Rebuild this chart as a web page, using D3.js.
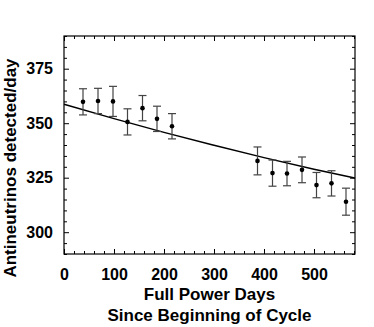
<!DOCTYPE html>
<html>
<head>
<meta charset="utf-8">
<script src="https://cdn.jsdelivr.net/npm/d3@7"></script>
<style>
  body { margin: 0; background: #fff; }
  text { font-family: "Liberation Sans", Arial, sans-serif; font-weight: bold; fill: #000; }
</style>
</head>
<body>
<div id="chart"></div>
<script>
'use strict'

// measured points: full power days, antineutrinos/day, error
const days   = [38, 68, 98, 127, 157, 186, 216, 387, 417, 446, 476, 505, 535, 564]
const rates  = [359.8, 360.2, 360.0, 350.6, 356.9, 352.0, 348.6, 332.7, 327.1, 326.9, 328.6, 321.6, 322.4, 314.0]
const errors = [6.0, 5.8, 6.9, 6.0, 5.8, 5.8, 5.8, 6.4, 6.0, 5.6, 5.9, 5.8, 5.8, 6.2]

// fitted curve
const fitDays  = [0, 100, 200, 300, 400, 500, 582]
const fitRates = [358.7, 352.1, 345.8, 339.9, 334.2, 328.9, 324.8]

var svgWidth = 374
var svgHeight = 327
var margin = {left: 64, right: 19, top: 36, bottom: 73}
const width = svgWidth - margin.left - margin.right
const height = svgHeight - margin.top - margin.bottom

const svg = d3.select('#chart').append('svg')
    .attr('width', svgWidth)
    .attr('height', svgHeight)
    .append('g')
    .attr('transform', 'translate(' + margin.left + ',' + margin.top + ')')

var xScale = d3.scaleLinear().domain([0, 582]).range([0, width])
var yScale = d3.scaleLinear().domain([290, 390]).range([height, 0])

// inward ticks on all four sides
function drawAxis(axis, transform, minorStep, majorStep, domain, showLabels) {
    var minor = d3.range(domain[0], domain[1] + 0.001, minorStep)
        .filter(function(v) { return Math.abs(v / majorStep - Math.round(v / majorStep)) > 1e-6 })
    var major = d3.range(Math.ceil(domain[0] / majorStep) * majorStep, domain[1] + 0.001, majorStep)
    var g = svg.append('g').attr('transform', transform)
    g.call(axis.tickValues(minor).tickSize(-3).tickFormat(''))
    g.select('.domain').remove()
    var g2 = svg.append('g').attr('transform', transform)
    g2.call(axis.tickValues(major).tickSize(-5).tickFormat(showLabels ? d3.format('d') : '').tickPadding(11))
    g2.select('.domain').remove()
    g.selectAll('line').attr('stroke', '#000')
    g2.selectAll('line').attr('stroke', '#000')
    g2.selectAll('text').style('font-size', '16px').style('font-family', '"Liberation Sans", Arial, sans-serif').style('font-weight', 'bold')
    return g2
}

var xb = drawAxis(d3.axisBottom(xScale), 'translate(0,' + height + ')', 20, 100, [0, 582], true)
xb.selectAll('text').attr('dy', '0.95em')
drawAxis(d3.axisTop(xScale), 'translate(0,0)', 20, 100, [0, 582], false)
drawAxis(d3.axisLeft(yScale), 'translate(0,0)', 5, 25, [290, 390], true)
drawAxis(d3.axisRight(yScale), 'translate(' + width + ',0)', 5, 25, [290, 390], false)

// frame
svg.append('rect')
    .attr('x', 0).attr('y', 0)
    .attr('width', width).attr('height', height)
    .attr('fill', 'none').attr('stroke', '#000').attr('stroke-width', 1.2)

// fit curve
var line = d3.line()
    .x(function(d, i) { return xScale(fitDays[i]) })
    .y(function(d) { return yScale(d) })
    .curve(d3.curveMonotoneX)

svg.append('path')
    .datum(fitRates)
    .attr('d', line)
    .attr('fill', 'none')
    .attr('stroke', '#000')
    .attr('stroke-width', 1.5)

// error bars
var pts = days.map(function(d, i) { return {x: d, y: rates[i], e: errors[i]} })
var capW = 4

var eb = svg.selectAll('.err').data(pts).enter().append('g').attr('class', 'err')
    .attr('stroke', '#444').attr('stroke-width', 1.2)
eb.append('line')
    .attr('x1', function(d) { return xScale(d.x) }).attr('x2', function(d) { return xScale(d.x) })
    .attr('y1', function(d) { return yScale(d.y + d.e) }).attr('y2', function(d) { return yScale(d.y - d.e) })
eb.append('line')
    .attr('x1', function(d) { return xScale(d.x) - capW }).attr('x2', function(d) { return xScale(d.x) + capW })
    .attr('y1', function(d) { return yScale(d.y + d.e) }).attr('y2', function(d) { return yScale(d.y + d.e) })
eb.append('line')
    .attr('x1', function(d) { return xScale(d.x) - capW }).attr('x2', function(d) { return xScale(d.x) + capW })
    .attr('y1', function(d) { return yScale(d.y - d.e) }).attr('y2', function(d) { return yScale(d.y - d.e) })

svg.selectAll('.dot').data(pts).enter().append('circle')
    .attr('class', 'dot')
    .attr('cx', function(d) { return xScale(d.x) })
    .attr('cy', function(d) { return yScale(d.y) })
    .attr('r', 2.3)
    .attr('fill', '#000')

// axis titles
svg.append('text')
    .attr('x', width / 2).attr('y', height + 46)
    .attr('text-anchor', 'middle')
    .style('font-size', '17px')
    .text('Full Power Days')
svg.append('text')
    .attr('x', width / 2).attr('y', height + 67)
    .attr('text-anchor', 'middle')
    .style('font-size', '17px')
    .text('Since Beginning of Cycle')
svg.append('text')
    .attr('transform', 'translate(' + (-48) + ',' + (height / 2 + 23) + ') rotate(-90)')
    .attr('text-anchor', 'middle')
    .style('font-size', '17px')
    .text('Antineutrinos detected/day')
</script>
</body>
</html>
